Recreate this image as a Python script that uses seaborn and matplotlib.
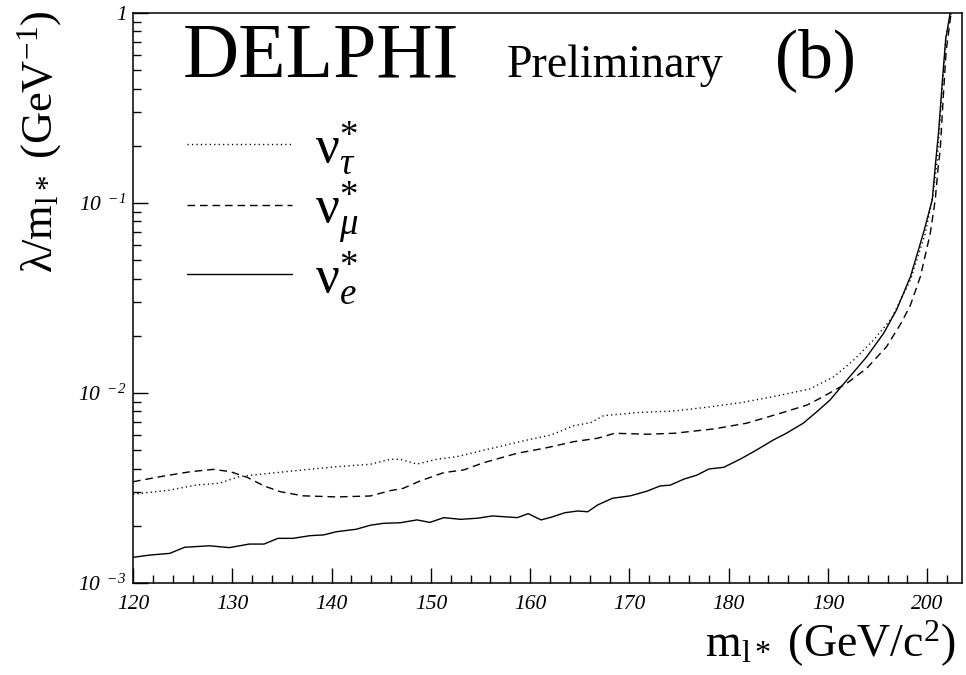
import numpy as np
import pandas as pd
import matplotlib
matplotlib.use("Agg")
import matplotlib.pyplot as plt
from matplotlib.ticker import FixedLocator, MultipleLocator, LogLocator, NullFormatter
import seaborn as sns

# ---------------- data ----------------
mass_e = [120.0, 121.7, 123.7, 125.2, 127.7, 129.7, 131.7, 133.2, 134.6, 136.1,
          137.8, 139.2, 140.5, 142.5, 143.9, 145.2, 146.9, 148.6, 149.9, 151.3,
          153.0, 154.7, 156.2, 158.7, 159.8, 161.1, 162.1, 163.5, 164.8, 165.8,
          166.8, 168.3, 170.1, 171.8, 173.1, 174.1, 175.5, 176.8, 178.0, 179.5,
          181.2, 182.8, 184.5, 185.8, 187.5, 188.8, 190.2, 191.9, 193.9, 195.6,
          196.9, 198.3, 199.6, 200.5, 200.85, 201.15, 201.5, 201.85, 202.3]
limit_e = [1.365e-3, 1.403e-3, 1.432e-3, 1.542e-3, 1.570e-3, 1.535e-3, 1.603e-3, 1.603e-3, 1.718e-3, 1.718e-3,
           1.774e-3, 1.791e-3, 1.862e-3, 1.919e-3, 2.014e-3, 2.061e-3, 2.075e-3, 2.148e-3, 2.084e-3, 2.208e-3,
           2.163e-3, 2.193e-3, 2.254e-3, 2.208e-3, 2.317e-3, 2.148e-3, 2.218e-3, 2.344e-3, 2.393e-3, 2.371e-3,
           2.576e-3, 2.793e-3, 2.877e-3, 3.048e-3, 3.243e-3, 3.273e-3, 3.524e-3, 3.698e-3, 3.981e-3, 4.064e-3,
           4.498e-3, 5.012e-3, 5.662e-3, 6.138e-3, 6.934e-3, 7.907e-3, 9.183e-3, 1.170e-2, 1.552e-2, 2.061e-2,
           2.735e-2, 4.093e-2, 6.918e-2, 0.1038, 0.166, 0.240, 0.4266, 0.7244, 1.0]

mass_tau = [120.0, 123.7, 126.4, 128.7, 130.7, 133.7, 137.1, 140.5, 143.9, 145.9,
            146.9, 148.6, 150.6, 152.6, 154.7, 158.0, 160.0, 162.1, 164.4, 166.1,
            167.4, 171.1, 174.4, 177.8, 181.2, 184.8, 188.2, 190.6, 192.6, 194.6,
            196.4, 198.3, 199.8, 200.6, 201.0, 201.3, 201.6, 201.9, 202.4]
limit_tau = [2.931e-3, 3.083e-3, 3.281e-3, 3.350e-3, 3.631e-3, 3.776e-3, 3.936e-3, 4.093e-3, 4.217e-3, 4.477e-3,
             4.477e-3, 4.227e-3, 4.477e-3, 4.624e-3, 4.909e-3, 5.395e-3, 5.702e-3, 6.012e-3, 6.730e-3, 6.982e-3,
             7.603e-3, 7.907e-3, 8.035e-3, 8.414e-3, 8.892e-3, 9.64e-3, 1.052e-2, 1.219e-2, 1.493e-2, 1.901e-2,
             2.472e-2, 3.936e-2, 6.918e-2, 0.1125, 0.1683, 0.2818, 0.468, 0.759, 1.0]

mass_mu = [120.0, 123.1, 125.8, 128.1, 129.8, 131.5, 133.2, 134.8, 137.1, 140.5,
           143.9, 145.9, 147.2, 148.9, 151.3, 153.3, 155.3, 158.7, 161.5, 164.4,
           166.8, 168.5, 171.8, 174.5, 178.5, 181.8, 185.3, 187.9, 189.2, 191.9,
           193.9, 195.9, 197.4, 198.3, 199.3, 200.3, 200.8, 201.1, 201.3, 201.6,
           201.9, 202.4]
limit_mu = [3.412e-3, 3.656e-3, 3.855e-3, 3.963e-3, 3.855e-3, 3.597e-3, 3.243e-3, 3.027e-3, 2.877e-3, 2.838e-3,
            2.871e-3, 3.062e-3, 3.148e-3, 3.443e-3, 3.811e-3, 3.936e-3, 4.295e-3, 4.819e-3, 5.129e-3, 5.546e-3,
            5.781e-3, 6.138e-3, 6.067e-3, 6.138e-3, 6.471e-3, 6.934e-3, 7.85e-3, 8.650e-3, 9.376e-3, 1.125e-2,
            1.349e-2, 1.754e-2, 2.35e-2, 2.90e-2, 4.093e-2, 6.918e-2, 0.1038, 0.1552, 0.190, 0.355,
            0.631, 1.0]

channels = [r"$\mathrm{\nu}^{*}_{\tau}$", r"$\mathrm{\nu}^{*}_{\mu}$", r"$\mathrm{\nu}^{*}_{e}$"]
x_ticks = [120, 130, 140, 150, 160, 170, 180, 190, 200]
y_ticks = [1e-3, 1e-2, 1e-1, 1.0]
y_tick_labels = [r"$\mathsf{10}^{\ \ \mathsf{-3}}$", r"$\mathsf{10}^{\ \ \mathsf{-2}}$",
                 r"$\mathsf{10}^{\ \ \mathsf{-1}}$", r"$\mathsf{1}$"]

df = pd.concat([
    pd.DataFrame({"mass": mass_tau, "limit": limit_tau, "channel": channels[0]}),
    pd.DataFrame({"mass": mass_mu, "limit": limit_mu, "channel": channels[1]}),
    pd.DataFrame({"mass": mass_e, "limit": limit_e, "channel": channels[2]}),
], ignore_index=True)

# ---------------- style ----------------
sns.set_theme(style="ticks")
plt.rcParams["font.family"] = ["Liberation Serif", "DejaVu Serif"]
plt.rcParams["mathtext.fontset"] = "custom"
plt.rcParams["mathtext.rm"] = "Liberation Serif"
plt.rcParams["mathtext.it"] = "Liberation Serif:italic"
plt.rcParams["mathtext.sf"] = "Liberation Serif:italic"
plt.rcParams["mathtext.bf"] = "Liberation Serif:bold"
plt.rcParams["text.color"] = "black"
plt.rcParams["axes.labelcolor"] = "black"
plt.rcParams["xtick.color"] = "black"
plt.rcParams["ytick.color"] = "black"
plt.rcParams["axes.edgecolor"] = "black"

fig = plt.figure(figsize=(9.66, 6.75), dpi=100)
ax = fig.add_axes([0.1377, 0.1363, 0.8582, 0.8444])

sns.lineplot(data=df, x="mass", y="limit", style="channel", style_order=channels,
             dashes={channels[0]: (0.9, 2.3), channels[1]: (5.5, 3.5), channels[2]: ""},
             color="black", linewidth=1.0, estimator=None, sort=False, ax=ax)

ax.set_yscale("log")
ax.set_xlim(120, 203.5)
ax.set_ylim(1e-3, 1.0)

for s in ax.spines.values():
    s.set_visible(True)
    s.set_color("black")
    s.set_linewidth(1.1)

ax.xaxis.set_major_locator(FixedLocator(x_ticks))
ax.xaxis.set_minor_locator(MultipleLocator(2))
ax.yaxis.set_major_locator(FixedLocator(y_ticks))
ax.yaxis.set_minor_locator(LogLocator(base=10, subs=np.arange(2, 10)))
ax.yaxis.set_minor_formatter(NullFormatter())
ax.set_yticklabels(y_tick_labels)
ax.set_xticklabels([str(v) for v in x_ticks], fontstyle="italic")

ax.tick_params(axis="both", which="major", direction="in", length=10.5, width=1.0,
               colors="black", top=False, right=False)
ax.tick_params(axis="both", which="minor", direction="in", length=5.5, width=1.0,
               colors="black", top=False, right=False)
ax.tick_params(axis="x", which="major", labelsize=15.5, pad=9)
ax.tick_params(axis="y", which="major", labelsize=15.5, pad=5)

ax.set_xlabel(r"$\mathrm{m}_{\mathrm{l}*}$ (GeV/c$^{2}$)", fontsize=33, loc="right")
ax.xaxis.set_label_coords(0.9916, -0.062)
ax.set_ylabel(r"$\mathrm{\lambda}/\mathrm{m}_{\mathrm{l}*}$ (GeV$^{-1}$)", fontsize=32)
ax.yaxis.set_label_coords(-0.083, 0.775)

# legend
handles, labels = ax.get_legend_handles_labels()
lut = dict(zip(labels, handles))
ax.legend([lut[c] for c in channels], channels, loc="upper left",
          bbox_to_anchor=(0.065, 0.814), frameon=False, fontsize=38,
          handlelength=2.0, handletextpad=0.42, labelspacing=0.06,
          borderaxespad=0.0, borderpad=0.0)

# header text
ax.text(0.060, 0.888, "DELPHI", transform=ax.transAxes, fontsize=56,
        ha="left", va="baseline", color="black")
ax.text(0.451, 0.888, "Preliminary", transform=ax.transAxes, fontsize=33,
        ha="left", va="baseline", color="black")
ax.text(0.774, 0.888, "(b)", transform=ax.transAxes, fontsize=50,
        ha="left", va="baseline", color="black")

fig.savefig("out.png", dpi=100)
